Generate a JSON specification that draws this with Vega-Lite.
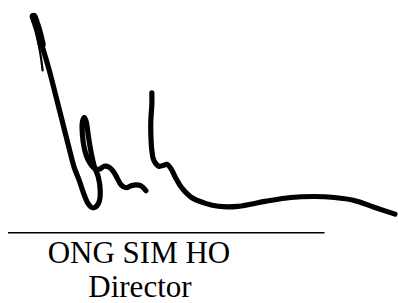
{
  "$schema": "https://vega.github.io/schema/vega-lite/v6.json",
  "width": 398,
  "height": 303,
  "autosize": {"type": "fit", "contains": "padding"},
  "padding": 0,
  "background": "white",
  "config": {"view": {"stroke": null}},
  "datasets": {
    "strokes": [
      {"s": "A", "i": 0, "x": 33, "y": 9},
      {"s": "A", "i": 1, "x": 37, "y": 20},
      {"s": "A", "i": 2, "x": 41, "y": 35},
      {"s": "A", "i": 3, "x": 46, "y": 52},
      {"s": "A", "i": 4, "x": 51, "y": 70},
      {"s": "A", "i": 5, "x": 56, "y": 90},
      {"s": "A", "i": 6, "x": 61, "y": 110},
      {"s": "A", "i": 7, "x": 66, "y": 130},
      {"s": "A", "i": 8, "x": 71, "y": 150},
      {"s": "A", "i": 9, "x": 75, "y": 165},
      {"s": "A", "i": 10, "x": 80, "y": 178},
      {"s": "A", "i": 11, "x": 84, "y": 190},
      {"s": "A", "i": 12, "x": 88, "y": 200},
      {"s": "A", "i": 13, "x": 92, "y": 205},
      {"s": "A", "i": 14, "x": 96, "y": 205},
      {"s": "A", "i": 15, "x": 100, "y": 199},
      {"s": "A", "i": 16, "x": 101, "y": 188},
      {"s": "A", "i": 17, "x": 99, "y": 174},
      {"s": "A", "i": 18, "x": 95, "y": 163},
      {"s": "A", "i": 19, "x": 92, "y": 150},
      {"s": "A", "i": 20, "x": 89, "y": 132},
      {"s": "A", "i": 21, "x": 87, "y": 118},
      {"s": "A", "i": 22, "x": 85, "y": 113},
      {"s": "A", "i": 23, "x": 83, "y": 118},
      {"s": "A", "i": 24, "x": 83, "y": 130},
      {"s": "A", "i": 25, "x": 85, "y": 145},
      {"s": "A", "i": 26, "x": 89, "y": 157},
      {"s": "A", "i": 27, "x": 95, "y": 165},
      {"s": "A", "i": 28, "x": 100, "y": 166},
      {"s": "A", "i": 29, "x": 105, "y": 163},
      {"s": "A", "i": 30, "x": 110, "y": 164},
      {"s": "A", "i": 31, "x": 114, "y": 168},
      {"s": "A", "i": 32, "x": 118, "y": 175},
      {"s": "A", "i": 33, "x": 122, "y": 182},
      {"s": "A", "i": 34, "x": 127, "y": 185},
      {"s": "A", "i": 35, "x": 132, "y": 183},
      {"s": "A", "i": 36, "x": 137, "y": 182},
      {"s": "A", "i": 37, "x": 142, "y": 183},
      {"s": "A", "i": 38, "x": 147, "y": 188},
      {"s": "B", "i": 0, "x": 153, "y": 88},
      {"s": "B", "i": 1, "x": 153, "y": 100},
      {"s": "B", "i": 2, "x": 152, "y": 115},
      {"s": "B", "i": 3, "x": 152, "y": 130},
      {"s": "B", "i": 4, "x": 153, "y": 147},
      {"s": "B", "i": 5, "x": 155, "y": 157},
      {"s": "B", "i": 6, "x": 160, "y": 163},
      {"s": "B", "i": 7, "x": 165, "y": 162},
      {"s": "B", "i": 8, "x": 168, "y": 161},
      {"s": "B", "i": 9, "x": 172, "y": 165},
      {"s": "B", "i": 10, "x": 177, "y": 175},
      {"s": "B", "i": 11, "x": 183, "y": 185},
      {"s": "B", "i": 12, "x": 193, "y": 195},
      {"s": "B", "i": 13, "x": 207, "y": 201},
      {"s": "B", "i": 14, "x": 220, "y": 204},
      {"s": "B", "i": 15, "x": 240, "y": 204},
      {"s": "B", "i": 16, "x": 267, "y": 199},
      {"s": "B", "i": 17, "x": 293, "y": 195},
      {"s": "B", "i": 18, "x": 317, "y": 194},
      {"s": "B", "i": 19, "x": 337, "y": 195},
      {"s": "B", "i": 20, "x": 357, "y": 198},
      {"s": "B", "i": 21, "x": 377, "y": 205},
      {"s": "B", "i": 22, "x": 398, "y": 212}
    ],
    "spur": [
      {"s": "C", "i": 0, "x": 35, "y": 14},
      {"s": "C", "i": 1, "x": 38, "y": 33},
      {"s": "C", "i": 2, "x": 41, "y": 50},
      {"s": "C", "i": 3, "x": 43, "y": 65}
    ],
    "top": [
      {"s": "D", "i": 0, "x": 34, "y": 10},
      {"s": "D", "i": 1, "x": 38, "y": 22},
      {"s": "D", "i": 2, "x": 42, "y": 38}
    ],
    "rule": [{"x": 8, "x2": 327, "y": 231}],
    "labels": [
      {"t": "ONG SIM HO", "x": 140, "y": 262},
      {"t": "Director", "x": 141, "y": 297}
    ]
  },
  "layer": [
    {
      "data": {"name": "strokes"},
      "mark": {"type": "line", "color": "black", "strokeWidth": 5.2, "interpolate": "catmull-rom", "strokeCap": "round", "strokeJoin": "round"},
      "encoding": {
        "x": {"field": "x", "type": "quantitative", "scale": {"domain": [0, 398], "nice": false, "zero": false}, "axis": null},
        "y": {"field": "y", "type": "quantitative", "scale": {"domain": [303, 0], "nice": false, "zero": false}, "axis": null},
        "detail": {"field": "s"},
        "order": {"field": "i", "type": "quantitative"}
      }
    },
    {
      "data": {"name": "spur"},
      "mark": {"type": "line", "color": "black", "strokeWidth": 2.2, "interpolate": "catmull-rom", "strokeCap": "round"},
      "encoding": {
        "x": {"field": "x", "type": "quantitative"},
        "y": {"field": "y", "type": "quantitative"},
        "order": {"field": "i", "type": "quantitative"}
      }
    },
    {
      "data": {"name": "top"},
      "mark": {"type": "line", "color": "black", "strokeWidth": 8, "interpolate": "catmull-rom", "strokeCap": "round"},
      "encoding": {
        "x": {"field": "x", "type": "quantitative"},
        "y": {"field": "y", "type": "quantitative"},
        "order": {"field": "i", "type": "quantitative"}
      }
    },
    {
      "data": {"name": "rule"},
      "mark": {"type": "rule", "color": "black", "strokeWidth": 1.5},
      "encoding": {
        "x": {"field": "x", "type": "quantitative"},
        "x2": {"field": "x2"},
        "y": {"field": "y", "type": "quantitative"}
      }
    },
    {
      "data": {"name": "labels"},
      "mark": {"type": "text", "font": "Liberation Serif", "fontSize": 31, "align": "center", "baseline": "alphabetic", "color": "black"},
      "encoding": {
        "x": {"field": "x", "type": "quantitative"},
        "y": {"field": "y", "type": "quantitative"},
        "text": {"field": "t"}
      }
    }
  ]
}
